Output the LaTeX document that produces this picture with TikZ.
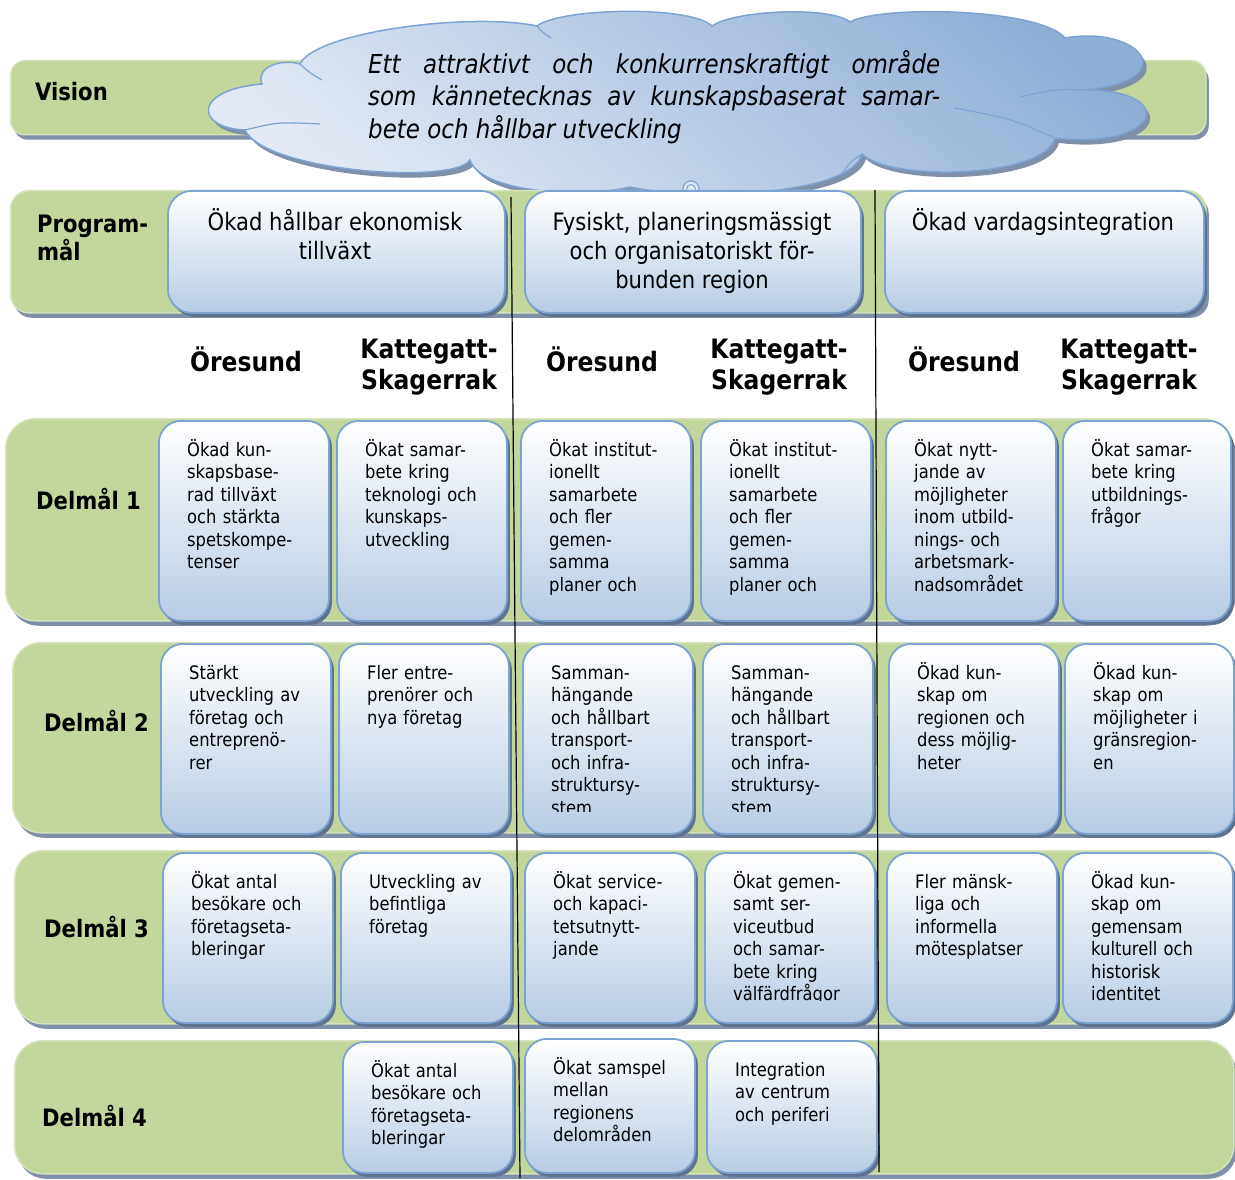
\documentclass[tikz,border=0pt]{standalone}
\usepackage{fontspec}
\setmainfont{DejaVu Sans}[FakeStretch=0.88]
\usetikzlibrary{shadows}

\definecolor{bandfill}{RGB}{195,214,155}
\definecolor{bandline}{RGB}{214,227,188}
\definecolor{bandsh}{RGB}{128,144,168}
\definecolor{boxline}{RGB}{125,163,210}
\definecolor{boxbot}{RGB}{184,204,228}
\definecolor{boxsh}{RGB}{95,115,145}
\definecolor{cloudA}{RGB}{226,233,244}
\definecolor{cloudB}{RGB}{143,174,213}

\tikzset{
  band/.style={draw=bandline, line width=1.5pt, fill=bandfill, rounded corners=#1,
    anchor=north west, inner sep=0pt,
    drop shadow={fill=bandsh, opacity=1, shadow xshift=3pt, shadow yshift=-5pt}},
  band/.default=24pt,
  gbox/.style={draw=boxline, line width=1.8pt, top color=white, bottom color=boxbot,
    rounded corners=22pt, anchor=north west, inner sep=0pt,
    drop shadow={fill=boxsh, opacity=1, shadow xshift=3pt, shadow yshift=-4pt}},
  btxt/.style={anchor=north west, inner sep=0pt, text width=150pt, align=left,
    font=\fontsize{18.6}{22.5}\selectfont},
  ptxt/.style={anchor=north, inner sep=0pt, align=center,
    font=\fontsize{24}{29}\selectfont},
  hdr/.style={anchor=north, inner sep=0pt, align=center,
    font=\bfseries\fontsize{26.7}{31}\selectfont},
  lbl/.style={anchor=north west, inner sep=0pt, align=left,
    font=\bfseries\fontsize{24}{28}\selectfont},
  vline/.style={draw=black, line width=1.2pt},
  inarc/.style={draw=boxline, line width=1.2pt},
}
\newcommand\rs[1]{\rule{0pt}{#1pt}}

% box with clipped left-aligned text: name, x, y, w, h, text
\newcommand\gbx[6]{%
  \node[gbox, minimum width=#4pt, minimum height=#5pt] (#1) at (#2,#3) {};
  \begin{scope}
    \clip (#2,#3) rectangle ++(#4,#5-22);
    \node[btxt] (#1t) at (#2+29,#3+16) {\rs{20}#6};
  \end{scope}}

\newcommand\cloudpath{(300,64) .. controls (315,32) and (470,12) .. (537,26)
  .. controls (560,8) and (690,5) .. (712,26)
  .. controls (735,10) and (830,6) .. (850,22)
  .. controls (880,5) and (1040,8) .. (1065,38)
  .. controls (1140,25) and (1185,80) .. (1085,90)
  .. controls (1180,90) and (1160,150) .. (1055,138)
  .. controls (1045,178) and (890,182) .. (862,154)
  .. controls (850,197) and (690,200) .. (630,187)
  .. controls (580,199) and (480,192) .. (470,160)
  .. controls (455,185) and (265,172) .. (245,130)
  .. controls (195,128) and (192,90) .. (262,84)
  .. controls (255,68) and (280,58) .. (300,64) -- cycle}

\begin{document}
\begin{tikzpicture}[x=1pt,y=-1pt]
\useasboundingbox[fill=white] (0,0) rectangle (1235,1180);

% Vision row
\node[band=14pt, minimum width=1195pt, minimum height=74pt] (vband) at (10,60) {};
\node[lbl] (vlabel) at (35,74) {\rs{26}Vision};

% cloud
\fill[bandsh, shift={(4,5)}] \cloudpath;
\shade[top color=cloudB, bottom color=cloudA, shading angle=-40] \cloudpath;
\draw[boxline, line width=1.5pt] \cloudpath;
\draw[inarc] (300,64) .. controls (310,73) .. (322,80);
\draw[inarc] (537,26) .. controls (542,32) .. (551,38);
\draw[inarc] (1085,90) .. controls (1055,89) .. (1020,97);
\draw[inarc] (1055,138) .. controls (1012,119) .. (955,108);
\draw[inarc] (862,154) .. controls (850,162) .. (842,174);
\draw[inarc] (245,130) .. controls (278,122) .. (320,124);
\node[circle, draw=boxline, line width=1.2pt, fill=cloudA, minimum size=16pt, inner sep=0pt] (tail) at (691,189) {};
\node[circle, draw=boxline, line width=1pt, minimum size=9pt, inner sep=0pt] (tail2) at (691,189) {};
\node[anchor=north west, inner sep=0pt, align=left,
  font=\itshape\fontsize{26.1}{32.5}\selectfont] (vtext) at (368,43)
  {\rs{30}\hbox to 572pt{Ett\hfill attraktivt\hfill och\hfill konkurrenskraftigt\hfill område}\\
   \leavevmode\hbox to 572pt{som\hfill kännetecknas\hfill av\hfill kunskapsbaserat\hfill samar-}\\
   bete och hållbar utveckling};

% Programmål row
\node[band=18pt, minimum width=1195pt, minimum height=122pt] (pband) at (10,190) {};
\node[lbl] (plabel) at (37,206) {\rs{26}Program-\\mål};
\node[gbox, rounded corners=24pt, minimum width=337pt, minimum height=122pt] (p1) at (167,190) {};
\node[gbox, rounded corners=24pt, minimum width=336pt, minimum height=122pt] (p2) at (524,190) {};
\node[gbox, rounded corners=24pt, minimum width=319pt, minimum height=122pt] (p3) at (884,190) {};
\node[ptxt] (p1t) at (335,204) {\rs{26}Ökad hållbar ekonomisk\\tillväxt};
\node[ptxt] (p2t) at (692,204) {\rs{26}Fysiskt, planeringsmässigt\\och organisatoriskt för-\\bunden region};
\node[ptxt] (p3t) at (1043,204) {\rs{26}Ökad vardagsintegration};

% column headers
\node[hdr] (h1o) at (246,341) {\rs{30}Öresund};
\node[hdr] (h1k) at (429,328) {\rs{30}Kattegatt-\\Skagerrak};
\node[hdr] (h2o) at (602,341) {\rs{30}Öresund};
\node[hdr] (h2k) at (779,328) {\rs{30}Kattegatt-\\Skagerrak};
\node[hdr] (h3o) at (964,341) {\rs{30}Öresund};
\node[hdr] (h3k) at (1129,328) {\rs{30}Kattegatt-\\Skagerrak};

% Delmål 1
\node[band=30pt, minimum width=1227pt, minimum height=202pt] (d1band) at (5,418) {};
\node[lbl] (d1label) at (36,483) {\rs{26}Delmål 1};
\gbx{a1}{158}{420}{170}{200}{Ökad kun-\\skapsbase-\\rad tillväxt\\och stärkta\\spetskompe-\\tenser}
\gbx{a2}{336}{420}{170}{200}{Ökat samar-\\bete kring\\teknologi och\\kunskaps-\\utveckling}
\gbx{a3}{520}{420}{170}{200}{Ökat institut-\\ionellt\\samarbete\\och fler\\gemen-\\samma\\planer och}
\gbx{a4}{700}{420}{170}{200}{Ökat institut-\\ionellt\\samarbete\\och fler\\gemen-\\samma\\planer och}
\gbx{a5}{885}{420}{170}{200}{Ökat nytt-\\jande av\\möjligheter\\inom utbild-\\nings- och\\arbetsmark-\\nadsområdet}
\gbx{a6}{1062}{420}{168}{200}{Ökat samar-\\bete kring\\utbildnings-\\frågor}

% Delmål 2
\node[band=28pt, minimum width=1221pt, minimum height=190pt] (d2band) at (12,642) {};
\node[lbl] (d2label) at (44,705) {\rs{26}Delmål 2};
\gbx{b1}{160}{643}{170}{190}{Stärkt\\utveckling av\\företag och\\entreprenö-\\rer}
\gbx{b2}{338}{643}{170}{190}{Fler entre-\\prenörer och\\nya företag}
\gbx{b3}{522}{643}{170}{190}{Samman-\\hängande\\och hållbart\\transport-\\och infra-\\struktursy-\\stem}
\gbx{b4}{702}{643}{170}{190}{Samman-\\hängande\\och hållbart\\transport-\\och infra-\\struktursy-\\stem}
\gbx{b5}{888}{643}{170}{190}{Ökad kun-\\skap om\\regionen och\\dess möjlig-\\heter}
\gbx{b6}{1064}{643}{169}{190}{Ökad kun-\\skap om\\möjligheter i\\gränsregion-\\en}

% Delmål 3
\node[band=28pt, minimum width=1219pt, minimum height=173pt] (d3band) at (14,850) {};
\node[lbl] (d3label) at (44,911) {\rs{26}Delmål 3};
\gbx{c1}{162}{852}{170}{170}{Ökat antal\\besökare och\\företagseta-\\bleringar}
\gbx{c2}{340}{852}{170}{170}{Utveckling av\\befintliga\\företag}
\gbx{c3}{524}{852}{170}{170}{Ökat service-\\och kapaci-\\tetsutnytt-\\jande}
\gbx{c4}{704}{852}{170}{170}{Ökat gemen-\\samt ser-\\viceutbud\\och samar-\\bete kring\\välfärdfrågor}
\gbx{c5}{886}{852}{170}{170}{Fler mänsk-\\liga och\\informella\\mötesplatser}
\gbx{c6}{1062}{852}{170}{170}{Ökad kun-\\skap om\\gemensam\\kulturell och\\historisk\\identitet}

% Delmål 4
\node[band=28pt, minimum width=1219pt, minimum height=133pt] (d4band) at (14,1040) {};
\node[lbl] (d4label) at (42,1100) {\rs{26}Delmål 4};
\gbx{e1}{342}{1041}{170}{131}{Ökat antal\\besökare och\\företagseta-\\bleringar}
\gbx{e2}{524}{1038}{170}{134}{Ökat samspel\\mellan\\regionens\\delområden}
\gbx{e3}{706}{1040}{170}{132}{Integration\\av centrum\\och periferi}

% dividing lines
\coordinate (l1t) at (511,197);
\coordinate (l1b) at (520,1178);
\coordinate (l2t) at (875,190);
\coordinate (l2b) at (879,1172);
\draw[vline] (l1t) -- (l1b);
\draw[vline] (l2t) -- (l2b);
\end{tikzpicture}
\end{document}
